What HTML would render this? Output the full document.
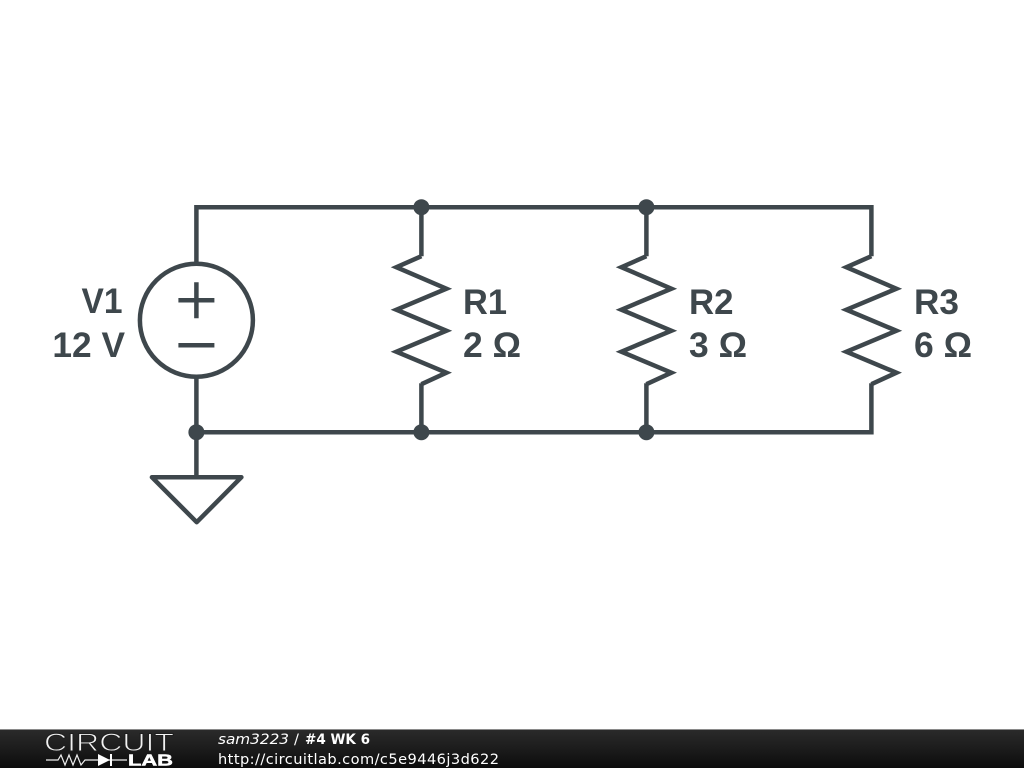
<!DOCTYPE html>
<html><head><meta charset="utf-8"><style>
html,body{margin:0;padding:0;background:#fff;width:1024px;height:768px;overflow:hidden}
svg{display:block}
</style></head><body>
<svg width="1024" height="768" viewBox="0 0 1024 768" xmlns="http://www.w3.org/2000/svg">
<defs><linearGradient id="g" x1="0" y1="0" x2="0" y2="1"><stop offset="0" stop-color="#2b2b2b"/><stop offset="0.5" stop-color="#1c1c1c"/><stop offset="1" stop-color="#0c0c0c"/></linearGradient></defs>
<rect width="1024" height="768" fill="#fff"/>
<g transform="translate(0.4,0.2)">
<g fill="none" stroke="#3e474c" stroke-width="4.500" stroke-linejoin="miter" stroke-miterlimit="10" stroke-linecap="butt">
<path d="M196 262V207H871V256M421 207V256M646 207V256"/>
<path d="M196 378V477M196 432H871V383M421 432V383M646 432V383"/>
<circle cx="196" cy="320" r="56.500"/>
<path d="M178 300H214M196 282V318M178 345H214"/>
<path d="M421 256L396 267L446 288.500L396 309.500L446 330.500L396 351.500L446 372.500L421 384"/>
<path d="M646 256L621 267L671 288.500L621 309.500L671 330.500L621 351.500L671 372.500L646 384"/>
<path d="M871 256L846 267L896 288.500L846 309.500L896 330.500L846 351.500L896 372.500L871 384"/>
<path d="M151.500 477H241L196.300 522Z" stroke-linejoin="round"/>
</g>
<g fill="#3e474c">
<circle cx="421" cy="207" r="8"/><circle cx="646" cy="207" r="8"/>
<circle cx="196" cy="432" r="8"/><circle cx="421" cy="432" r="8"/><circle cx="646" cy="432" r="8"/>
</g>
</g>
<g font-family="'Liberation Sans',sans-serif" font-weight="700" font-size="35.300" fill="#3e474c">
<text x="122.500" y="313" text-anchor="end" textLength="41" lengthAdjust="spacingAndGlyphs">V1</text>
<text x="125" y="357" text-anchor="end">12 V</text>
<text x="463" y="314" textLength="44" lengthAdjust="spacingAndGlyphs">R1</text><text x="463" y="357" textLength="58" lengthAdjust="spacingAndGlyphs">2 Ω</text>
<text x="689" y="314" textLength="44.500" lengthAdjust="spacingAndGlyphs">R2</text><text x="689" y="357" textLength="58" lengthAdjust="spacingAndGlyphs">3 Ω</text>
<text x="914" y="314" textLength="45" lengthAdjust="spacingAndGlyphs">R3</text><text x="914" y="357" textLength="58" lengthAdjust="spacingAndGlyphs">6 Ω</text>
</g>
<rect x="0" y="729" width="1024" height="39" fill="url(#g)"/>
<rect x="0" y="729" width="1024" height="1" fill="#8a8a8a"/>
<text x="44" y="751" font-family="'Liberation Sans',sans-serif" font-size="25" fill="#f2f2f2" stroke="#1f1f1f" stroke-width="0.900" textLength="130" lengthAdjust="spacingAndGlyphs" style="font-weight:400">CIRCUIT</text>
<path d="M46 760H58L61 755L65 765L69 755L73 765L77 755L81 765L85 760H127" fill="none" stroke="#eee" stroke-width="1.200"/>
<path d="M98 754L110 760L98 766Z" fill="#fff"/><rect x="110" y="754" width="2" height="12" fill="#fff"/>
<text x="128" y="765.500" font-family="'Liberation Sans',sans-serif" font-weight="700" font-size="15.500" fill="#fff" stroke="#fff" stroke-width="0.500" textLength="45" lengthAdjust="spacingAndGlyphs">LAB</text>
<g font-family="'DejaVu Sans',sans-serif" fill="#fff">
<text x="218" y="744" font-size="14.600" font-style="italic" textLength="71" lengthAdjust="spacingAndGlyphs">sam3223</text>
<text x="294" y="744" font-size="14.600">/</text>
<text x="305" y="744" font-size="14.600" font-weight="700" textLength="65" lengthAdjust="spacingAndGlyphs">#4 WK 6</text>
<text x="218" y="764" font-size="14.600" textLength="281">http://circuitlab.com/c5e9446j3d622</text>
</g>
</svg>
</body></html>
